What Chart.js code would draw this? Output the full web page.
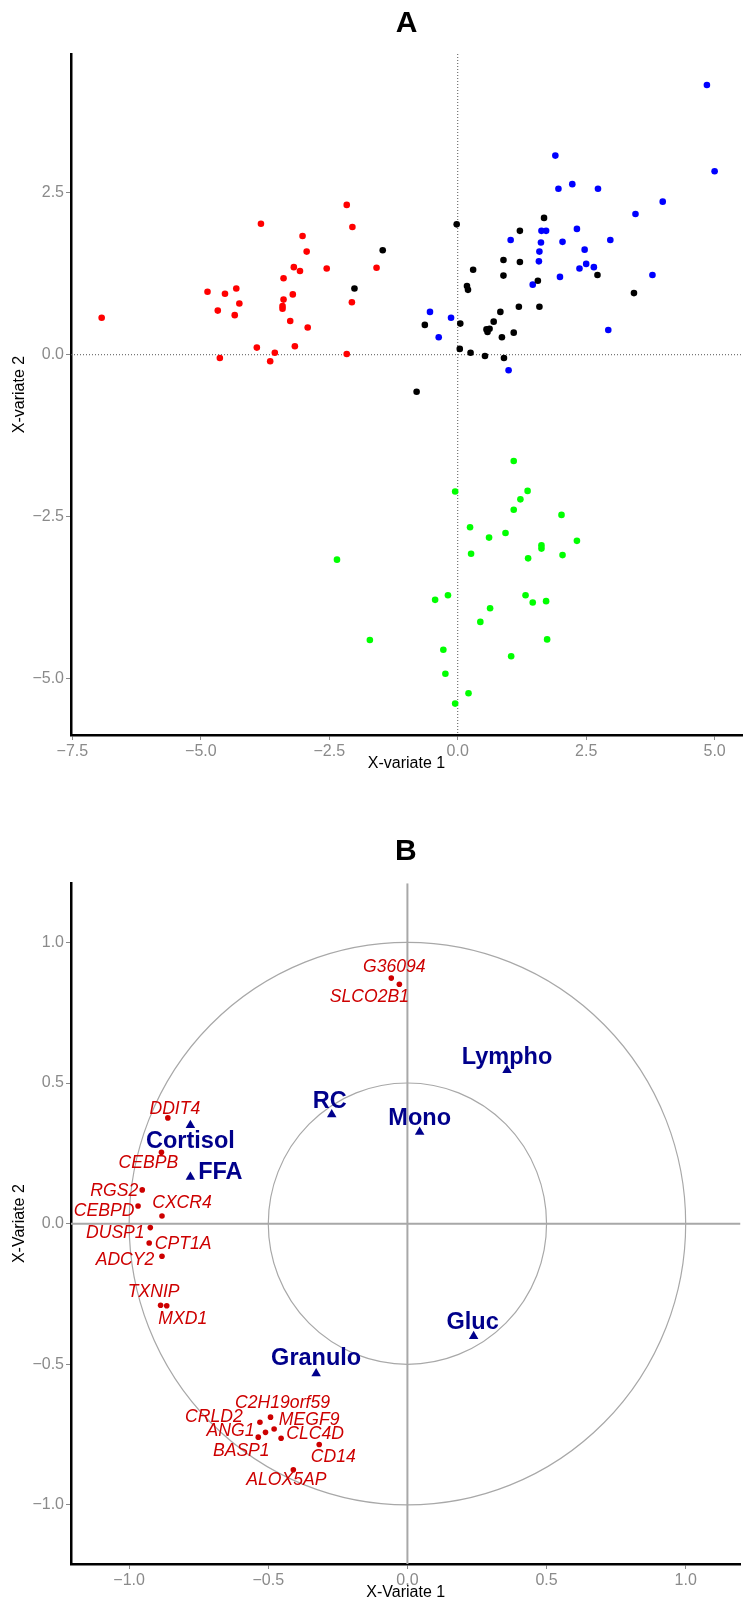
<!DOCTYPE html>
<html>
<head>
<meta charset="utf-8">
<script src="https://cdn.jsdelivr.net/npm/chart.js@4.4.1/dist/chart.umd.min.js"></script>
<style>
  html, body { margin: 0; padding: 0; background: #fff; }
  #wrapA { position: absolute; left: 0; top: 0; }
  #wrapB { position: absolute; left: 0; top: 800px; }
</style>
</head>
<body>
<div id="wrapA"><canvas id="chartA" width="746" height="800"></canvas></div>
<div id="wrapB"><canvas id="chartB" width="746" height="805"></canvas></div>
<script>
// ---- Panel A: sample scores, one array per group ([X-variate 1, X-variate 2])
const groupRed = [
  [-6.93, 0.57], [-4.87, 0.97], [-4.53, 0.94], [-4.31, 1.02], [-4.25, 0.79],
  [-4.67, 0.68], [-4.34, 0.61], [-4.63, -0.05], [-3.83, 2.02], [-3.91, 0.11],
  [-3.65, -0.10], [-3.56, 0.03], [-3.39, 1.18], [-3.39, 0.85], [-3.41, 0.75],
  [-3.41, 0.71], [-3.26, 0.52], [-3.17, 0.13], [-3.21, 0.93], [-3.19, 1.35],
  [-3.07, 1.29], [-3.02, 1.83], [-2.94, 1.59], [-2.92, 0.42], [-2.55, 1.33],
  [-2.16, 2.31], [-2.05, 1.97], [-2.06, 0.81], [-2.16, 0.01], [-1.58, 1.34]
];
const groupBlack = [
  [-0.02, 2.01], [1.68, 2.11], [1.21, 1.91], [0.30, 1.31], [0.89, 1.46],
  [1.21, 1.43], [0.89, 1.22], [0.18, 1.06], [0.20, 1.00], [1.56, 1.14],
  [2.72, 1.23], [3.43, 0.95], [1.19, 0.74], [1.59, 0.74], [0.83, 0.66],
  [-0.64, 0.46], [0.05, 0.48], [0.70, 0.51], [0.56, 0.39], [0.62, 0.40],
  [0.58, 0.35], [0.86, 0.27], [1.09, 0.34], [0.04, 0.09], [0.25, 0.03],
  [0.53, -0.02], [0.90, -0.05], [-0.80, -0.57], [-2.01, 1.02], [-1.46, 1.61]
];
const groupBlue = [
  [4.85, 4.16], [5.00, 2.83], [1.90, 3.07], [1.96, 2.56], [2.23, 2.63],
  [2.73, 2.56], [3.99, 2.36], [3.46, 2.17], [2.32, 1.94], [1.63, 1.91],
  [1.72, 1.91], [1.03, 1.77], [1.62, 1.73], [2.04, 1.74], [2.97, 1.77],
  [1.59, 1.59], [1.58, 1.44], [2.47, 1.62], [2.50, 1.40], [2.37, 1.33],
  [2.65, 1.35], [1.99, 1.20], [1.46, 1.08], [3.79, 1.23], [2.93, 0.38],
  [-0.54, 0.66], [-0.13, 0.57], [-0.37, 0.27], [0.99, -0.24]
];
const groupGreen = [
  [1.09, -1.64], [-0.05, -2.11], [1.36, -2.10], [1.22, -2.23], [1.09, -2.39],
  [2.02, -2.47], [0.24, -2.66], [0.61, -2.82], [0.93, -2.75], [1.63, -2.94],
  [1.63, -2.99], [2.32, -2.87], [0.26, -3.07], [1.37, -3.14], [2.04, -3.09],
  [-2.35, -3.16], [-0.44, -3.78], [-0.19, -3.71], [1.32, -3.71], [1.46, -3.82],
  [1.72, -3.80], [0.63, -3.91], [0.44, -4.12], [-1.71, -4.40], [1.74, -4.39],
  [-0.28, -4.55], [1.04, -4.65], [-0.24, -4.92], [0.21, -5.22], [-0.05, -5.38]
];
const xTicksA = [-7.5, -5.0, -2.5, 0.0, 2.5, 5.0];
const yTicksA = [-5.0, -2.5, 0.0, 2.5];

// ---- Panel B: correlation circle
const geneNames = ['G36094', 'SLCO2B1', 'DDIT4', 'CEBPB', 'RGS2', 'CEBPD', 'CXCR4',
  'DUSP1', 'CPT1A', 'ADCY2', 'TXNIP', 'MXD1', 'C2H19orf59', 'CRLD2', 'MEGF9',
  'ANG1', 'BASP1', 'CLC4D', 'CD14', 'ALOX5AP'];
const geneX = [-0.058, -0.029, -0.861, -0.884, -0.953, -0.968, -0.882,
  -0.924, -0.928, -0.882, -0.887, -0.865, -0.492, -0.530, -0.479,
  -0.510, -0.536, -0.454, -0.317, -0.410];
const geneY = [0.873, 0.851, 0.376, 0.254, 0.120, 0.063, 0.027,
  -0.014, -0.069, -0.116, -0.290, -0.292, -0.688, -0.706, -0.730,
  -0.742, -0.759, -0.763, -0.785, -0.875];
const varNames = ['Cortisol', 'FFA', 'RC', 'Mono', 'Lympho', 'Gluc', 'Granulo'];
const varX = [-0.780, -0.780, -0.272, 0.044, 0.358, 0.238, -0.328];
const varY = [0.350, 0.166, 0.388, 0.326, 0.545, -0.400, -0.533];
const circleRadii = [0.5, 1.0];
const ticksB = [-1.0, -0.5, 0.0, 0.5, 1.0];

// label placement (pixel offsets from the point, repel-style)
const geneLabelOffsets = [[3, -11], [-30, 13], [7, -9], [-13, 11], [-28, 1], [-34, 5], [20, -13],
  [-35, 6], [34, 1], [-37, 4], [-7, -13], [16, 13], [12, -14], [-46, -5], [35, -9],
  [-35, -1], [-17, 14], [34, -4], [14, 13], [-7, 10]];
const varLabelOffsets = [[0, 16], [30, -4], [-2, -13], [0, -13], [0, -13], [-1, -14], [0, -15]];

const FONT = "'Liberation Sans', Arial, Helvetica, sans-serif";
const TICK_GREY = '#8a8a8a';

function fmtTick(v) {
  const s = Math.abs(v).toFixed(1);
  return v < 0 ? '\u2212' + s : s;
}

function toPoints(pairs) {
  return pairs.map(p => ({ x: p[0], y: p[1] }));
}

// reference lines through the origin and optional circles
const refLinesPlugin = {
  id: 'refLines',
  beforeDatasetsDraw(chart, args, opts) {
    const { ctx, chartArea: a, scales: { x, y } } = chart;
    const px = x.getPixelForValue(0);
    const py = y.getPixelForValue(0);
    ctx.save();
    ctx.beginPath();
    ctx.rect(a.left, a.top, a.right - a.left, a.bottom - a.top);
    ctx.clip();
    if (opts.circles) {
      ctx.strokeStyle = opts.circleColor;
      ctx.lineWidth = opts.circleWidth;
      opts.circles.forEach(r => {
        const rx = Math.abs(x.getPixelForValue(r) - px);
        const ry = Math.abs(y.getPixelForValue(r) - py);
        ctx.beginPath();
        ctx.ellipse(px, py, rx, ry, 0, 0, Math.PI * 2);
        ctx.stroke();
      });
    }
    ctx.strokeStyle = opts.color;
    ctx.lineWidth = opts.width;
    ctx.setLineDash(opts.dash || []);
    ctx.beginPath();
    ctx.moveTo(px, a.top);
    ctx.lineTo(px, a.bottom);
    ctx.moveTo(a.left, py);
    ctx.lineTo(a.right, py);
    ctx.stroke();
    ctx.restore();
  }
};

// text labels next to points
const pointLabelsPlugin = {
  id: 'pointLabels',
  afterDatasetsDraw(chart) {
    const ctx = chart.ctx;
    chart.data.datasets.forEach((ds, i) => {
      if (!ds.labelTexts) return;
      const meta = chart.getDatasetMeta(i);
      ctx.save();
      ctx.font = ds.labelFont;
      ctx.fillStyle = ds.labelColor;
      ctx.textAlign = 'center';
      ctx.textBaseline = 'middle';
      meta.data.forEach((pt, j) => {
        const off = ds.labelOffsets[j];
        ctx.fillText(ds.labelTexts[j], pt.x + off[0], pt.y + off[1]);
      });
      ctx.restore();
    });
  }
};

function axisConfig(o) {
  return {
    type: 'linear',
    min: o.min,
    max: o.max,
    afterBuildTicks: axis => { axis.ticks = o.ticks.map(v => ({ value: v })); },
    afterFit: axis => {
      if (o.width !== undefined) axis.width = o.width;
      if (o.height !== undefined) axis.height = o.height;
    },
    border: { display: true, color: '#000', width: 2.5 },
    grid: { drawOnChartArea: false, drawTicks: true, tickLength: 5, tickColor: TICK_GREY, tickWidth: 1 },
    ticks: { color: TICK_GREY, font: { family: FONT, size: 16 }, padding: 2, callback: v => fmtTick(v) },
    title: { display: true, text: o.title, color: '#000', font: { family: FONT, size: 16 }, padding: o.titlePadding }
  };
}

function baseOptions(o) {
  return {
    responsive: false,
    animation: false,
    devicePixelRatio: 1,
    layout: { padding: 0 },
    plugins: {
      legend: { display: false },
      tooltip: { enabled: false },
      title: {
        display: true, text: o.title, fullSize: false, color: '#000',
        font: { family: FONT, size: 30, weight: 'bold' },
        padding: o.titlePadding
      },
      refLines: o.refLines
    },
    scales: o.scales
  };
}

// ---- Chart A
new Chart(document.getElementById('chartA'), {
  type: 'scatter',
  data: {
    datasets: [
      { data: toPoints(groupRed), backgroundColor: '#FF0000' },
      { data: toPoints(groupBlack), backgroundColor: '#000000' },
      { data: toPoints(groupBlue), backgroundColor: '#0000FF' },
      { data: toPoints(groupGreen), backgroundColor: '#00FF00' }
    ].map(d => Object.assign(d, { pointRadius: 3.3, borderWidth: 0, pointBorderWidth: 0 }))
  },
  options: baseOptions({
    title: 'A',
    titlePadding: { top: 6, bottom: 12 },
    refLines: { color: '#555', width: 1, dash: [1, 2] },
    scales: {
      x: axisConfig({ min: -7.527, max: 5.533, ticks: xTicksA, height: 65,
        title: 'X-variate 1', titlePadding: { top: 0, bottom: 26.4 } }),
      y: axisConfig({ min: -5.864, max: 4.637, ticks: yTicksA, width: 71,
        title: 'X-variate 2', titlePadding: { top: 10, bottom: 0 } })
    }
  }),
  plugins: [refLinesPlugin]
});

// ---- Chart B
new Chart(document.getElementById('chartB'), {
  type: 'scatter',
  data: {
    datasets: [
      {
        data: geneX.map((v, i) => ({ x: v, y: geneY[i] })),
        backgroundColor: '#CD0000', pointRadius: 2.8, pointBorderWidth: 0, borderWidth: 0,
        labelTexts: geneNames, labelOffsets: geneLabelOffsets,
        labelFont: 'italic 17.6px ' + FONT, labelColor: '#CD0000'
      },
      {
        data: varX.map((v, i) => ({ x: v, y: varY[i] })),
        backgroundColor: '#00008B', pointStyle: 'triangle', pointRadius: 5.5, pointBorderWidth: 0, borderWidth: 0,
        labelTexts: varNames, labelOffsets: varLabelOffsets,
        labelFont: 'bold 23.5px ' + FONT, labelColor: '#00008B'
      }
    ]
  },
  options: baseOptions({
    title: 'B',
    titlePadding: { top: 34, bottom: 13.3 },
    refLines: { color: '#A8A8A8', width: 2, circles: circleRadii, circleColor: '#A8A8A8', circleWidth: 1.2 },
    scales: {
      x: axisConfig({ min: -1.209, max: 1.197, ticks: ticksB, height: 41,
        title: 'X-Variate 1', titlePadding: { top: 0, bottom: 2.4 } }),
      y: axisConfig({ min: -1.21, max: 1.21, ticks: ticksB, width: 71,
        title: 'X-Variate 2', titlePadding: { top: 10, bottom: 0 } })
    }
  }),
  plugins: [refLinesPlugin, pointLabelsPlugin]
});
</script>
</body>
</html>
